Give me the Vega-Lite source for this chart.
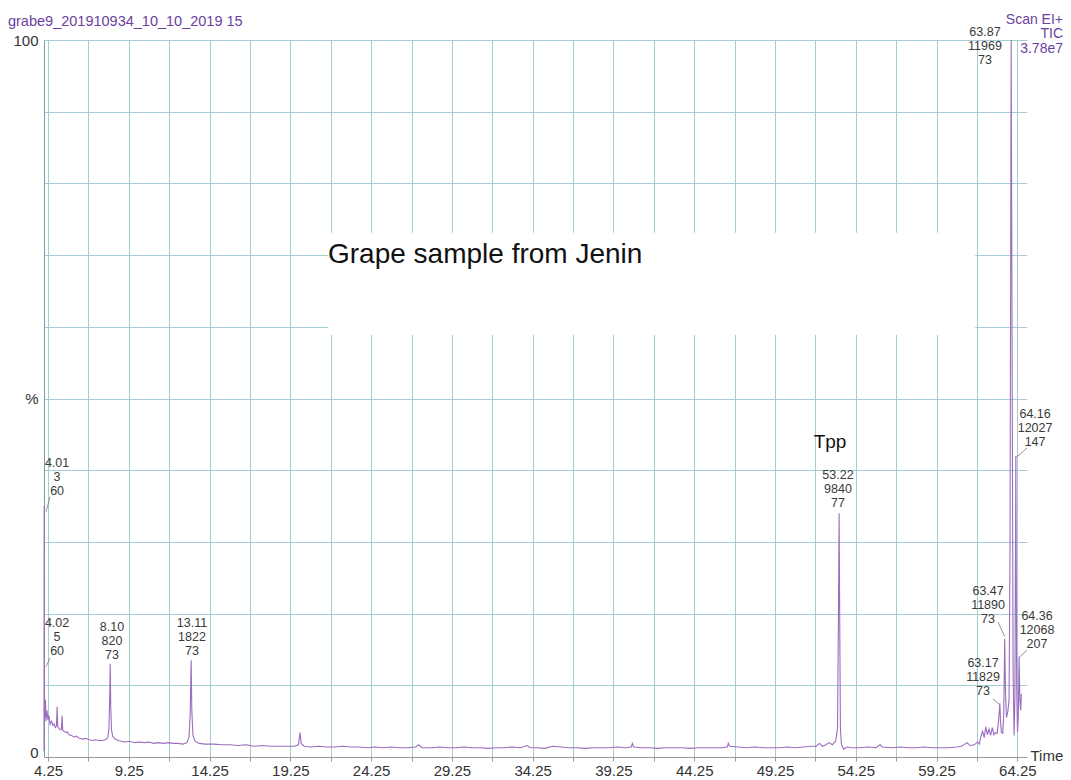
{
  "$schema": "https://vega.github.io/schema/vega-lite/v6.json",
  "width": 983,
  "height": 717,
  "autosize": {"type": "none"},
  "padding": {"left": 44, "top": 40, "right": 44, "bottom": 23},
  "background": "white",
  "config": {"view": {"stroke": null}, "font": "Liberation Sans"},
  "datasets": {
    "trace": [
      {"t": 4.0, "p": 0.8}, {"t": 4.005, "p": 20}, {"t": 4.01, "p": 35}, {"t": 4.013, "p": 10}, {"t": 4.017, "p": 6}, {"t": 4.02, "p": 13}, {"t": 4.025, "p": 7},
      {"t": 4.05, "p": 5.5}, {"t": 4.09, "p": 8.0}, {"t": 4.12, "p": 5.0}, {"t": 4.18, "p": 6.5}, {"t": 4.24, "p": 5.2}, {"t": 4.30, "p": 5.8},
      {"t": 4.38, "p": 4.6}, {"t": 4.46, "p": 5.0}, {"t": 4.55, "p": 4.4}, {"t": 4.62, "p": 4.6}, {"t": 4.70, "p": 4.1}, {"t": 4.77, "p": 4.3},
      {"t": 4.81, "p": 7.0}, {"t": 4.85, "p": 4.2}, {"t": 4.93, "p": 4.0}, {"t": 5.02, "p": 3.8}, {"t": 5.08, "p": 3.9}, {"t": 5.12, "p": 5.8},
      {"t": 5.16, "p": 3.7}, {"t": 5.25, "p": 3.6}, {"t": 5.35, "p": 3.4}, {"t": 5.45, "p": 3.5}, {"t": 5.55, "p": 3.1}, {"t": 5.70, "p": 3.0},
      {"t": 5.85, "p": 2.8}, {"t": 6.00, "p": 2.9}, {"t": 6.20, "p": 2.6}, {"t": 6.40, "p": 2.5}, {"t": 6.60, "p": 2.6}, {"t": 6.80, "p": 2.4},
      {"t": 7.00, "p": 2.3}, {"t": 7.20, "p": 2.4}, {"t": 7.40, "p": 2.3}, {"t": 7.60, "p": 2.3}, {"t": 7.80, "p": 2.4}, {"t": 7.95, "p": 2.7},
      {"t": 8.02, "p": 4.0}, {"t": 8.07, "p": 8.5}, {"t": 8.10, "p": 13.0}, {"t": 8.13, "p": 7.0}, {"t": 8.18, "p": 3.8}, {"t": 8.25, "p": 2.9},
      {"t": 8.40, "p": 2.5}, {"t": 8.60, "p": 2.3}, {"t": 8.80, "p": 2.2}, {"t": 9.00, "p": 2.1}, {"t": 9.30, "p": 2.2}, {"t": 9.60, "p": 2.0},
      {"t": 9.90, "p": 2.1}, {"t": 10.20, "p": 2.0}, {"t": 10.50, "p": 2.1}, {"t": 10.80, "p": 1.9}, {"t": 11.10, "p": 2.0}, {"t": 11.40, "p": 1.9},
      {"t": 11.70, "p": 2.0}, {"t": 12.00, "p": 1.9}, {"t": 12.30, "p": 1.9}, {"t": 12.60, "p": 1.8}, {"t": 12.85, "p": 2.0}, {"t": 12.98, "p": 2.8},
      {"t": 13.05, "p": 6.0}, {"t": 13.11, "p": 13.5}, {"t": 13.15, "p": 6.5}, {"t": 13.22, "p": 3.0}, {"t": 13.35, "p": 2.2}, {"t": 13.6, "p": 1.9},
      {"t": 14.0, "p": 1.8}, {"t": 14.5, "p": 1.8}, {"t": 15.0, "p": 1.7}, {"t": 15.5, "p": 1.7}, {"t": 16.0, "p": 1.6}, {"t": 16.5, "p": 1.7},
      {"t": 17.0, "p": 1.5}, {"t": 17.5, "p": 1.6}, {"t": 18.0, "p": 1.5}, {"t": 18.5, "p": 1.5}, {"t": 19.0, "p": 1.5}, {"t": 19.5, "p": 1.5},
      {"t": 19.75, "p": 1.7}, {"t": 19.85, "p": 3.4}, {"t": 19.92, "p": 1.9}, {"t": 20.1, "p": 1.5}, {"t": 20.5, "p": 1.4}, {"t": 21.0, "p": 1.5},
      {"t": 21.5, "p": 1.4}, {"t": 22.0, "p": 1.4}, {"t": 22.5, "p": 1.5}, {"t": 23.0, "p": 1.4}, {"t": 23.5, "p": 1.4}, {"t": 24.0, "p": 1.3},
      {"t": 24.5, "p": 1.4}, {"t": 25.0, "p": 1.3}, {"t": 25.5, "p": 1.4}, {"t": 26.0, "p": 1.3}, {"t": 26.5, "p": 1.3}, {"t": 27.0, "p": 1.4},
      {"t": 27.2, "p": 1.7}, {"t": 27.4, "p": 1.3}, {"t": 28.0, "p": 1.3}, {"t": 28.5, "p": 1.4}, {"t": 29.0, "p": 1.3}, {"t": 29.5, "p": 1.3},
      {"t": 30.0, "p": 1.4}, {"t": 30.5, "p": 1.3}, {"t": 31.0, "p": 1.3}, {"t": 31.5, "p": 1.2}, {"t": 32.0, "p": 1.3}, {"t": 32.5, "p": 1.3},
      {"t": 33.0, "p": 1.4}, {"t": 33.5, "p": 1.3}, {"t": 33.9, "p": 1.6}, {"t": 34.1, "p": 1.3}, {"t": 34.5, "p": 1.3}, {"t": 35.0, "p": 1.2},
      {"t": 35.5, "p": 1.5}, {"t": 36.0, "p": 1.4}, {"t": 36.5, "p": 1.3}, {"t": 37.0, "p": 1.3}, {"t": 37.5, "p": 1.2}, {"t": 38.0, "p": 1.3},
      {"t": 38.5, "p": 1.3}, {"t": 39.0, "p": 1.3}, {"t": 39.5, "p": 1.4}, {"t": 40.0, "p": 1.3}, {"t": 40.35, "p": 1.4}, {"t": 40.42, "p": 1.9},
      {"t": 40.5, "p": 1.4}, {"t": 41.0, "p": 1.3}, {"t": 41.5, "p": 1.3}, {"t": 42.0, "p": 1.2}, {"t": 42.5, "p": 1.3}, {"t": 43.0, "p": 1.3},
      {"t": 43.5, "p": 1.3}, {"t": 44.0, "p": 1.2}, {"t": 44.5, "p": 1.3}, {"t": 45.0, "p": 1.3}, {"t": 45.5, "p": 1.3}, {"t": 46.0, "p": 1.3},
      {"t": 46.3, "p": 1.4}, {"t": 46.36, "p": 1.9}, {"t": 46.45, "p": 1.5}, {"t": 47.0, "p": 1.4}, {"t": 47.5, "p": 1.3}, {"t": 48.0, "p": 1.4},
      {"t": 48.5, "p": 1.3}, {"t": 49.0, "p": 1.3}, {"t": 49.5, "p": 1.3}, {"t": 50.0, "p": 1.4}, {"t": 50.5, "p": 1.3}, {"t": 51.0, "p": 1.4},
      {"t": 51.5, "p": 1.5}, {"t": 51.8, "p": 1.5}, {"t": 52.0, "p": 1.9}, {"t": 52.2, "p": 1.5}, {"t": 52.4, "p": 1.7}, {"t": 52.6, "p": 2.0},
      {"t": 52.8, "p": 1.7}, {"t": 53.0, "p": 2.2}, {"t": 53.12, "p": 4.0}, {"t": 53.18, "p": 20}, {"t": 53.22, "p": 34}, {"t": 53.26, "p": 18},
      {"t": 53.3, "p": 4.0}, {"t": 53.36, "p": 1.8}, {"t": 53.5, "p": 1.1}, {"t": 53.7, "p": 1.4}, {"t": 54.0, "p": 1.3}, {"t": 54.5, "p": 1.3},
      {"t": 55.0, "p": 1.4}, {"t": 55.5, "p": 1.3}, {"t": 55.75, "p": 1.7}, {"t": 55.9, "p": 1.4}, {"t": 56.5, "p": 1.3}, {"t": 57.0, "p": 1.4},
      {"t": 57.5, "p": 1.3}, {"t": 58.0, "p": 1.3}, {"t": 58.5, "p": 1.4}, {"t": 59.0, "p": 1.3}, {"t": 59.5, "p": 1.3}, {"t": 60.0, "p": 1.3},
      {"t": 60.5, "p": 1.4}, {"t": 60.8, "p": 1.5}, {"t": 61.0, "p": 1.8}, {"t": 61.15, "p": 2.0}, {"t": 61.3, "p": 1.6}, {"t": 61.6, "p": 1.7},
      {"t": 61.77, "p": 2.1}, {"t": 61.9, "p": 1.8}, {"t": 62.0, "p": 2.9}, {"t": 62.1, "p": 3.6}, {"t": 62.2, "p": 2.7}, {"t": 62.3, "p": 4.2},
      {"t": 62.4, "p": 3.1}, {"t": 62.5, "p": 3.9}, {"t": 62.6, "p": 3.0}, {"t": 62.7, "p": 4.1}, {"t": 62.8, "p": 3.1}, {"t": 62.9, "p": 3.4},
      {"t": 63.0, "p": 3.3}, {"t": 63.08, "p": 4.8}, {"t": 63.13, "p": 6.2}, {"t": 63.17, "p": 7.5}, {"t": 63.21, "p": 5.0}, {"t": 63.27, "p": 3.4},
      {"t": 63.35, "p": 3.3}, {"t": 63.41, "p": 6.0}, {"t": 63.47, "p": 16.5}, {"t": 63.52, "p": 9.0}, {"t": 63.58, "p": 5.5}, {"t": 63.66, "p": 6.3},
      {"t": 63.74, "p": 8.0}, {"t": 63.8, "p": 30}, {"t": 63.87, "p": 100}, {"t": 63.93, "p": 55}, {"t": 63.99, "p": 12}, {"t": 64.05, "p": 3.0},
      {"t": 64.1, "p": 8.0}, {"t": 64.16, "p": 42}, {"t": 64.21, "p": 10}, {"t": 64.26, "p": 3.5}, {"t": 64.31, "p": 5.5}, {"t": 64.36, "p": 14},
      {"t": 64.41, "p": 8.0}, {"t": 64.46, "p": 6.5}, {"t": 64.5, "p": 8.8}
    ],
    "box": [{"t": 21.6, "t2": 61.65, "p": 58.9, "p2": 73.1}],
    "peaks": [
      {"t": 4.81, "p": 41.8, "label": "4.01|3|60"},
      {"t": 4.81, "p": 19.5, "label": "4.02|5|60"},
      {"t": 8.21, "p": 19.0, "label": "8.10|820|73"},
      {"t": 13.16, "p": 19.5, "label": "13.11|1822|73"},
      {"t": 53.15, "p": 40.2, "label": "53.22|9840|77"},
      {"t": 62.13, "p": 13.9, "label": "63.17|11829|73"},
      {"t": 62.44, "p": 24.0, "label": "63.47|11890|73"},
      {"t": 62.25, "p": 102.0, "label": "63.87|11969|73"},
      {"t": 65.35, "p": 48.7, "label": "64.16|12027|147"},
      {"t": 65.47, "p": 20.5, "label": "64.36|12068|207"}
    ],
    "leaders": [
      {"t": 4.37, "p": 36.3, "t2": 4.13, "p2": 34.2},
      {"t": 4.37, "p": 13.8, "t2": 4.13, "p2": 12.6},
      {"t": 63.06, "p": 18.8, "t2": 63.47, "p2": 16.8},
      {"t": 64.85, "p": 43.1, "t2": 64.2, "p2": 41.8},
      {"t": 64.85, "p": 14.9, "t2": 64.38, "p2": 13.9},
      {"t": 62.75, "p": 8.1, "t2": 63.15, "p2": 7.3}
    ],
    "tpp": [{"t": 52.66, "p": 43.9, "label": "Tpp"}],
    "note": [{"t": 21.58, "p": 70.0, "label": "Grape sample from Jenin"}],
    "scan": [{"t": 67.08, "p": 102.8, "label": "Scan EI+|TIC|3.78e7"}],
    "header": [{"t": 1.77, "p": 102.5, "label": "grabe9_201910934_10_10_2019 15"}]
  },
  "encoding": {
    "x": {
      "field": "t", "type": "quantitative",
      "scale": {"domain": [4.0, 64.85], "nice": false, "zero": false},
      "axis": {
        "title": "Time", "titleFont": "Liberation Sans", "titleFontSize": 15, "titleFontWeight": "normal", "titleColor": "#333333",
        "titleX": 986, "titleY": -2, "titleAlign": "left", "titleBaseline": "middle", "titleAngle": 0,
        "values": [4.25, 6.75, 9.25, 11.75, 14.25, 16.75, 19.25, 21.75, 24.25, 26.75, 29.25, 31.75, 34.25, 36.75, 39.25, 41.75, 44.25, 46.75, 49.25, 51.75, 54.25, 56.75, 59.25, 61.75, 64.25],
        "labelExpr": "abs((datum.value - 4.25) % 5) < 0.01 ? format(datum.value, '.2f') : ''",
        "labelFont": "Liberation Sans", "labelFontSize": 15, "labelColor": "#333333", "labelPadding": 2,
        "labelOverlap": false, "labelFlush": false,
        "tickSize": 4, "tickColor": "#999999", "domainColor": "#9a9a9a",
        "grid": true, "gridColor": "#a6cdd3", "gridWidth": 1
      }
    },
    "y": {
      "field": "p", "type": "quantitative",
      "scale": {"domain": [0, 100], "nice": false},
      "axis": {
        "title": null,
        "values": [0, 10, 20, 30, 40, 50, 60, 70, 80, 90, 100],
        "labelExpr": "datum.value == 0 ? '0' : datum.value == 100 ? '100' : datum.value == 50 ? '%' : ''",
        "labelFont": "Liberation Sans", "labelFontSize": 15, "labelColor": "#333333", "labelPadding": 6,
        "labelOffset": {"condition": {"test": "datum.value == 0", "value": -5}, "value": 0},
        "labelOverlap": false, "labelFlush": false,
        "tickSize": 0, "domainColor": "#6f9ea6",
        "grid": true, "gridColor": "#a6cdd3", "gridWidth": 1
      }
    }
  },
  "layer": [
    {
      "data": {"name": "box"},
      "mark": {"type": "rect", "color": "white"},
      "encoding": {"x2": {"field": "t2"}, "y2": {"field": "p2"}}
    },
    {
      "data": {"name": "trace"},
      "mark": {"type": "line", "color": "#9c6cbf", "strokeWidth": 1.1, "clip": false}
    },
    {
      "data": {"name": "leaders"},
      "mark": {"type": "rule", "color": "#777777", "strokeWidth": 0.8},
      "encoding": {"x2": {"field": "t2"}, "y2": {"field": "p2"}}
    },
    {
      "data": {"name": "peaks"},
      "mark": {"type": "text", "font": "Liberation Sans", "fontSize": 12.5, "lineHeight": 14, "lineBreak": "|", "align": "center", "baseline": "top", "color": "#3a3a3a"},
      "encoding": {"text": {"field": "label"}}
    },
    {
      "data": {"name": "tpp"},
      "mark": {"type": "text", "font": "Liberation Sans", "fontSize": 19, "align": "center", "baseline": "middle", "color": "#111111"},
      "encoding": {"text": {"field": "label"}}
    },
    {
      "data": {"name": "note"},
      "mark": {"type": "text", "font": "Liberation Sans", "fontSize": 28, "align": "left", "baseline": "middle", "color": "#111111"},
      "encoding": {"text": {"field": "label"}}
    },
    {
      "data": {"name": "scan"},
      "mark": {"type": "text", "font": "Liberation Sans", "fontSize": 14, "lineHeight": 14.5, "lineBreak": "|", "align": "right", "baseline": "middle", "color": "#6b3fa0"},
      "encoding": {"text": {"field": "label"}}
    },
    {
      "data": {"name": "header"},
      "mark": {"type": "text", "font": "Liberation Sans", "fontSize": 14.5, "align": "left", "baseline": "middle", "color": "#6b3fa0"},
      "encoding": {"text": {"field": "label"}}
    }
  ]
}
